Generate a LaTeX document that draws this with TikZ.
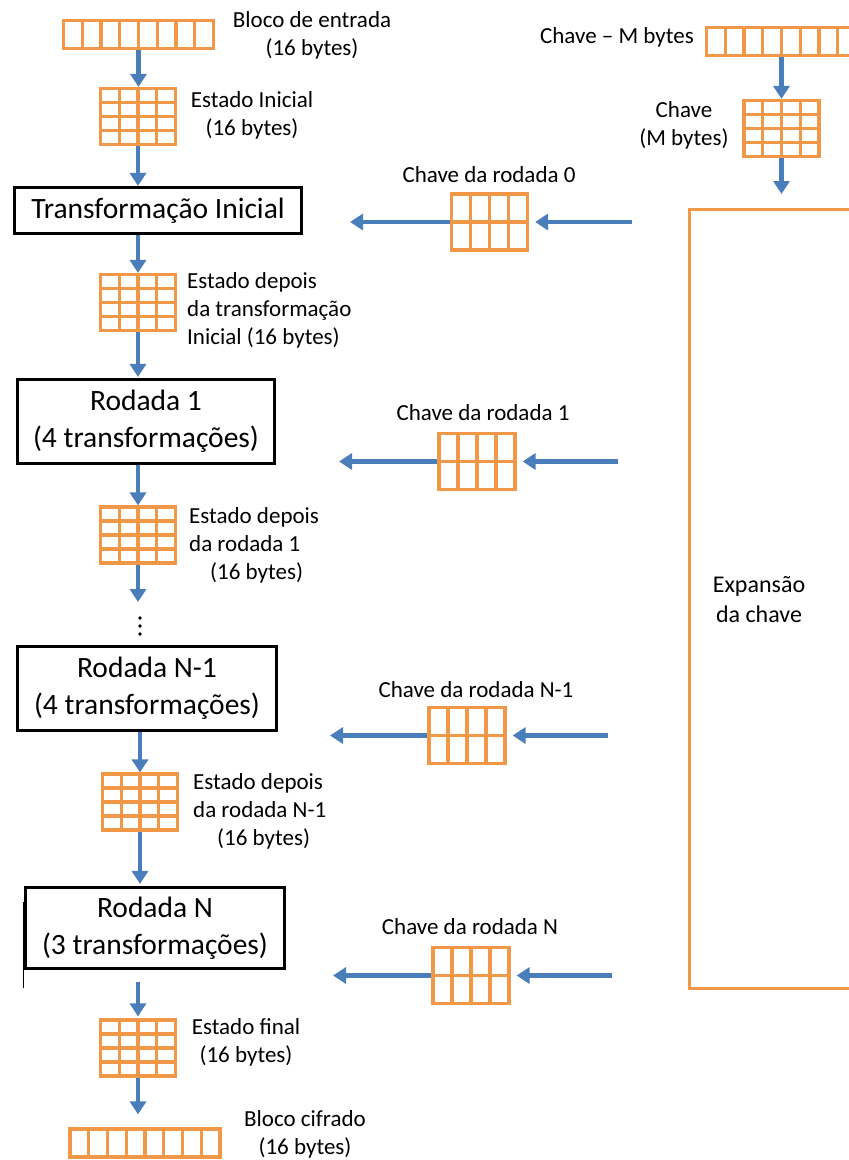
\documentclass[tikz,border=0pt]{standalone}
\usepackage{fontspec}
\setmainfont{Carlito}
\usetikzlibrary{arrows.meta,calc}

\definecolor{cellorange}{RGB}{240,152,72}
\definecolor{flowblue}{RGB}{74,126,187}

\newcommand\lblfont{\fontsize{23}{28}\selectfont}
\newcommand\stagefont{\fontsize{29.5}{37}\selectfont}
\newcommand\keyexpfont{\fontsize{24}{30}\selectfont}

% inner cell lines of a byte grid, given as fractions of its width / height
\newcommand\cellcolumns[1]{\foreach \f in {#1}
  \draw[cellline] ($(path picture bounding box.south west)!\f!(path picture bounding box.south east)$)
    -- ($(path picture bounding box.north west)!\f!(path picture bounding box.north east)$);}
\newcommand\cellrows[1]{\foreach \f in {#1}
  \draw[cellline] ($(path picture bounding box.south west)!\f!(path picture bounding box.north west)$)
    -- ($(path picture bounding box.south east)!\f!(path picture bounding box.north east)$);}

\begin{document}
\begin{tikzpicture}[x=1pt,y=-1pt,
  cellline/.style={draw=cellorange,line width=3.2pt},
  cellbox/.style={draw=cellorange,line width=3.2pt,inner sep=0pt},
  blockrow/.style={cellbox,minimum width=150pt,minimum height=28pt,
    path picture={\cellcolumns{0.125,0.25,0.375,0.5,0.625,0.75,0.875}}},
  stategrid/.style={cellbox,minimum width=75pt,minimum height=56pt,
    path picture={\cellcolumns{0.25,0.5,0.75}\cellrows{0.25,0.5,0.75}}},
  keygrid/.style={cellbox,minimum width=76pt,minimum height=56pt,
    path picture={\cellcolumns{0.25,0.5,0.75}\cellrows{0.5}}},
  stagebox/.style={draw=black,line width=3.2pt,inner sep=0pt,align=center,font=\stagefont},
  lbl/.style={inner sep=0pt,font=\lblfont},
  flow/.style={draw=flowblue,line width=4.5pt,-{Triangle[length=13pt,width=16pt]}},
]
\useasboundingbox (0,0) rectangle (849,1160);
\clip (0,0) rectangle (849,1160);

% ---------- encryption path ----------
\node[blockrow] (inblock) at (138.5,34.5) {};
\node[lbl,align=center] at (312,35) {Bloco de entrada\\(16 bytes)};

\node[stategrid] (s0) at (138,116.5) {};
\node[lbl,align=center] at (252,115) {Estado Inicial\\(16 bytes)};

\node[stagebox,minimum width=287pt,minimum height=46pt] (init) at (158,210.5) {Transformação Inicial};

\node[stategrid] (s1) at (138,302.5) {};
\node[lbl,align=left,anchor=west] at (187,310) {Estado depois\\da transformação\\Inicial (16 bytes)};

\node[stagebox,minimum width=257pt,minimum height=84pt] (r1) at (146,421.5) {Rodada 1\\(4 transformações)};

\node[stategrid] (s2) at (138,535) {};
\node[lbl,align=left,anchor=west] at (189,545) {Estado depois\\da rodada 1\\\hspace*{21pt}(16 bytes)};

\coordinate (dots) at (138,602);
\foreach \yy in {618,626,634} \fill (140,\yy) circle (1.9pt);

\node[stagebox,minimum width=259pt,minimum height=84pt] (rn1) at (147,688.5) {Rodada N-1\\(4 transformações)};

\node[stategrid] (s3) at (140,802) {};
\node[lbl,align=left,anchor=west] at (193,811) {Estado depois\\da rodada N-1\\\hspace*{24pt}(16 bytes)};

\node[stagebox,minimum width=259pt,minimum height=81pt] (rn) at (155,928) {Rodada N\\(3 transformações)};
\draw[line width=1.5pt] (23.3,902) -- (23.3,988);

\node[stategrid] (s4) at (138,1048) {};
\node[lbl,align=center] at (246,1042) {Estado final\\(16 bytes)};

\node[blockrow] (outblock) at (145,1143) {};
\node[lbl,align=center] at (305,1134) {Bloco cifrado\\(16 bytes)};

\draw[flow] (inblock.south) -- (inblock.south |- s0.north);
\draw[flow] (s0.south) -- (s0.south |- init.north);
\draw[flow] (s1.north |- init.south) -- (s1.north);
\draw[flow,shorten >=1pt] (s1.south) -- (s1.south |- r1.north);
\draw[flow] (s2.north |- r1.south) -- (s2.north);
\draw[flow] (s2.south) -- (dots);
\draw[flow] (s3.north |- rn1.south) -- (s3.north);
\draw[flow,shorten >=2pt] (s3.south) -- (s3.south |- rn.north);
\draw[flow,shorten <=12pt,shorten >=2pt] (s4.north |- rn.south) -- (s4.north);
\draw[flow,shorten >=13pt] (s4.south) -- (s4.south |- outblock.north);

% ---------- key schedule ----------
\node[blockrow] (keyrow) at (781.5,41.5) {};
\node[lbl,anchor=east] at (694,37) {Chave – M bytes};

\node[stategrid] (key) at (781.5,128.5) {};
\node[lbl,align=center] at (684,125) {Chave\\(M bytes)};

\node[draw=cellorange,line width=3.2pt,inner sep=0pt,anchor=north west,
      minimum width=200pt,minimum height=779pt] (expansion) at (688,208) {};
\node[font=\keyexpfont,align=center,inner sep=0pt] (exptext) at (759,600) {Expansão\\da chave};

\draw[flow] (keyrow.south) -- (keyrow.south |- key.north);
\draw[flow,shorten >=14pt] (key.south) -- (key.south |- expansion.north);

% ---------- round keys ----------
\node[keygrid] (k0) at (489.5,222) {};
\node[lbl] at (489,175) {Chave da rodada 0};
\coordinate (k0src) at (632,222);
\coordinate (k0tip) at (350,222);

\node[keygrid] (k1) at (477,461.5) {};
\node[lbl] at (483,413) {Chave da rodada 1};
\coordinate (k1src) at (618,461.5);
\coordinate (k1tip) at (339,461.5);

\node[keygrid] (k2) at (467,735.5) {};
\node[lbl] at (476,690) {Chave da rodada N-1};
\coordinate (k2src) at (608,735.5);
\coordinate (k2tip) at (330,735.5);

\node[keygrid] (k3) at (471,975.5) {};
\node[lbl] at (470,927) {Chave da rodada N};
\coordinate (k3src) at (612,975.5);
\coordinate (k3tip) at (333,975.5);

\foreach \k in {k0,k1,k2,k3} {
  \draw[flow,shorten >=6pt] (\k src) -- (\k.east);
  \draw[flow] (\k.west) -- (\k tip);
}
\end{tikzpicture}
\end{document}
